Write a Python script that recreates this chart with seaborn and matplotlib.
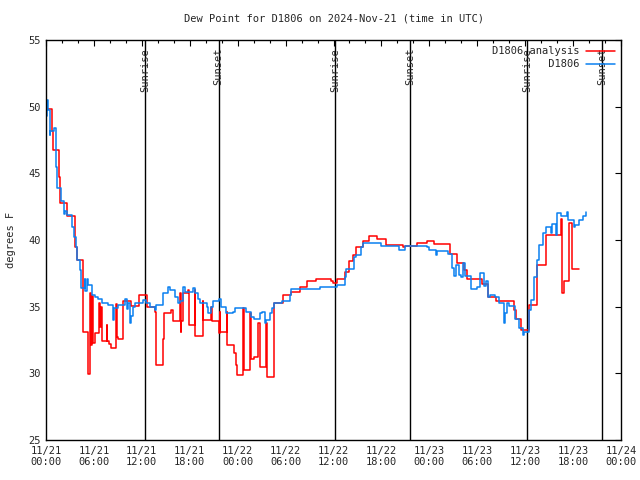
import pandas as pd
import matplotlib
matplotlib.use("Agg")
import matplotlib.pyplot as plt
import matplotlib.dates as mdates
import seaborn as sns

# analysis (hours after 2024-11-21 00:00 UTC, deg F)
red_hours = [0.0, 0.71, 0.83, 1.67, 1.79, 2.67, 3.67, 3.83, 4.67, 5.2, 5.55, 5.65,
             5.72, 5.83, 6.1, 6.67, 6.75, 6.83, 6.96, 7.6, 7.7, 7.9, 8.08, 8.75,
             8.83, 9.04, 9.67, 10.7, 11.67, 12.67, 13.6, 13.83, 14.67, 14.75, 15.7,
             15.9, 16.75, 16.85, 16.95, 17.1, 17.8, 17.85, 18.6, 18.7, 19.6, 19.67,
             20.7, 20.8, 21.7, 21.75, 21.8, 22.7, 22.72, 23.6, 23.8, 23.96, 24.67,
             24.8, 25.6, 25.7, 26.0, 26.5, 26.75, 27.6, 27.7, 28.5, 28.6, 29.67,
             30.7, 31.75, 32.67, 33.75, 35.7, 35.9, 36.4, 37.4, 37.9, 38.5, 38.8,
             39.75, 40.5, 41.4, 42.6, 44.7, 45.0, 46.5, 47.67, 48.6, 50.6, 51.5,
             52.4, 52.7, 54.6, 55.4, 56.4, 58.6, 58.8, 59.45, 60.5, 61.5, 62.6,
             64.5, 64.6, 64.9, 65.5, 65.9, 66.7]
red_vals = [49.8, 48.2, 46.75, 44.7, 42.75, 41.8, 39.5, 38.5, 33.1, 29.95, 36.0, 32.1,
            35.8, 32.3, 33.0, 35.3, 33.5, 35.0, 32.45, 33.6, 32.45, 32.2, 31.9, 35.2,
            32.75, 32.55, 35.45, 35.05, 35.9, 35.0, 34.6, 30.6, 32.6, 34.5, 34.75,
            33.95, 36.0, 33.1, 33.9, 36.0, 36.25, 33.6, 36.25, 32.8, 35.4, 34.0,
            35.0, 33.9, 33.0, 34.6, 33.1, 34.6, 32.1, 31.5, 30.6, 29.9, 34.9,
            30.25, 34.5, 31.1, 31.2, 33.75, 30.5, 33.75, 29.75, 32.5, 35.25, 35.9,
            36.1, 36.5, 36.9, 37.1, 36.9, 36.75, 37.1, 37.6, 38.4, 38.9, 39.5,
            39.9, 40.3, 40.05, 39.6, 39.45, 39.55, 39.75, 39.95, 39.7, 38.95, 38.25,
            37.75, 37.1, 36.7, 35.75, 35.4, 34.75, 34.1, 33.25, 35.1, 38.1, 40.4,
            41.55, 36.0, 36.9, 41.25, 37.8, 37.8]

# observations
blue_hours = [0.0, 0.1, 0.25, 0.46, 0.55, 1.0, 1.2, 1.42, 1.83, 2.25, 2.4, 2.67,
              3.3, 3.5, 3.7, 3.92, 4.25, 4.42, 4.83, 4.9, 5.08, 5.3, 5.7, 6.1,
              6.5, 7.0, 7.8, 8.4, 8.5, 9.04, 9.9, 10.1, 10.3, 10.5, 10.7, 10.9,
              11.1, 12.2, 12.5, 13.0, 13.6, 13.83, 14.67, 15.3, 15.5, 16.1, 16.5,
              16.75, 17.15, 17.4, 18.4, 18.6, 19.0, 19.25, 20.1, 20.3, 20.7, 20.9,
              21.6, 21.95, 22.6, 23.4, 23.7, 25.0, 25.7, 26.1, 26.75, 27.0, 27.4,
              27.6, 28.0, 28.3, 28.6, 29.5, 30.5, 30.7, 34.25, 36.5, 37.4, 37.6,
              38.6, 38.8, 39.5, 39.67, 42.0, 44.25, 44.9, 47.67, 48.0, 48.8, 49.0,
              50.3, 50.9, 51.1, 51.3, 51.75, 52.0, 52.2, 52.5, 53.2, 54.0, 54.3,
              54.8, 55.1, 55.4, 55.6, 56.25, 56.75, 57.4, 57.5, 57.7, 58.0, 58.7,
              59.25, 59.7, 59.9, 60.5, 60.7, 61.1, 61.5, 61.75, 62.2, 62.6, 63.2,
              63.4, 63.8, 64.0, 64.5, 65.3, 65.4, 66.1, 66.3, 66.8, 67.2, 67.6]
blue_vals = [49.3, 50.5, 49.75, 47.9, 48.2, 48.4, 45.5, 43.9, 42.9, 41.95, 42.2, 41.9,
             41.0, 40.25, 39.5, 38.5, 37.75, 36.4, 37.1, 36.2, 37.1, 36.6, 35.9, 35.75,
             35.6, 35.25, 35.1, 34.0, 34.9, 35.1, 35.6, 34.8, 35.3, 33.75, 34.3, 35.0,
             35.25, 35.5, 35.25, 35.0, 34.75, 35.1, 36.0, 36.5, 36.25, 35.75, 35.25,
             35.4, 36.5, 36.1, 36.4, 36.0, 35.6, 35.25, 35.0, 34.5, 35.0, 35.4,
             35.6, 35.0, 34.5, 34.6, 34.9, 34.6, 34.25, 34.1, 34.5, 34.6, 33.75,
             34.0, 34.5, 34.9, 35.25, 35.4, 35.9, 36.3, 36.5, 36.6, 37.2, 37.8,
             38.75, 38.9, 39.5, 39.8, 39.55, 39.25, 39.55, 39.45, 39.25, 38.9, 39.2,
             38.95, 37.9, 37.3, 38.1, 37.4, 37.25, 38.25, 37.3, 36.3, 36.5, 37.55,
             36.55, 36.9, 35.75, 35.9, 35.75, 35.25, 33.8, 34.5, 35.25, 35.05, 34.1,
             33.4, 32.9, 33.1, 34.75, 35.5, 37.25, 38.5, 39.6, 40.5, 41.0, 40.5,
             41.2, 40.4, 42.0, 41.8, 42.1, 41.5, 41.0, 41.1, 41.5, 41.8, 42.1]

sun_labels = ["Sunrise", "Sunset", "Sunrise", "Sunset", "Sunrise", "Sunset"]
sun_hours = [12.375, 21.625, 36.25, 45.625, 60.25, 69.625]

base = pd.Timestamp("2024-11-21 00:00")
red = pd.DataFrame({"time": base + pd.to_timedelta(red_hours, unit="h"), "dewpt": red_vals})
blue = pd.DataFrame({"time": base + pd.to_timedelta(blue_hours, unit="h"), "dewpt": blue_vals})

sns.set_style("white")
plt.rcParams["font.family"] = ["DejaVu Sans Mono"]
plt.rcParams["font.size"] = 7.5

fig = plt.figure(figsize=(6.4, 4.8), dpi=100)
ax = fig.add_axes([46 / 640, 40 / 480, 575 / 640, 400 / 480])

sns.lineplot(data=red, x="time", y="dewpt", ax=ax, color="#ff0000", lw=1.1,
             drawstyle="steps-post", estimator=None, sort=False,
             label="D1806 analysis")
sns.lineplot(data=blue, x="time", y="dewpt", ax=ax, color="#0a80f0", lw=1.1,
             drawstyle="steps-post", estimator=None, sort=False,
             label="         D1806")

for name, h in zip(sun_labels, sun_hours):
    t = base + pd.Timedelta(hours=h)
    ax.axvline(t, color="black", lw=1.0, zorder=1)
    ax.text(t, 54.4, name, rotation=90, ha="center", va="top", fontsize=7.5)

ax.set_xlim(base, base + pd.Timedelta(hours=72))
ax.set_ylim(25, 55)
ax.set_yticks(range(25, 56, 5))
ax.xaxis.set_major_locator(mdates.HourLocator(byhour=[0, 6, 12, 18]))
ax.xaxis.set_minor_locator(mdates.HourLocator(interval=2))
ax.xaxis.set_major_formatter(mdates.DateFormatter("%m/%d\n%H:%M"))
ax.tick_params(which="both", direction="in", top=True, right=True, color="black")
ax.tick_params(which="major", length=4, width=0.8, labelsize=7.5, pad=4)
ax.tick_params(which="minor", length=2.5, width=0.8)
for s in ax.spines.values():
    s.set_color("black")
    s.set_linewidth(1.0)

ax.set_xlabel("")
ax.set_ylabel("degrees F", fontsize=7.5)
ax.yaxis.set_label_coords(-0.052, 0.5)
ax.set_title("Dew Point for D1806 on 2024-Nov-21 (time in UTC)", pad=13, fontsize=7.5)

ax.legend(loc="upper right", frameon=False, markerfirst=False, handlelength=2.8,
          borderaxespad=0.2, labelspacing=0.3, handletextpad=0.6, fontsize=7.5)

fig.savefig("out.png", dpi=100)
